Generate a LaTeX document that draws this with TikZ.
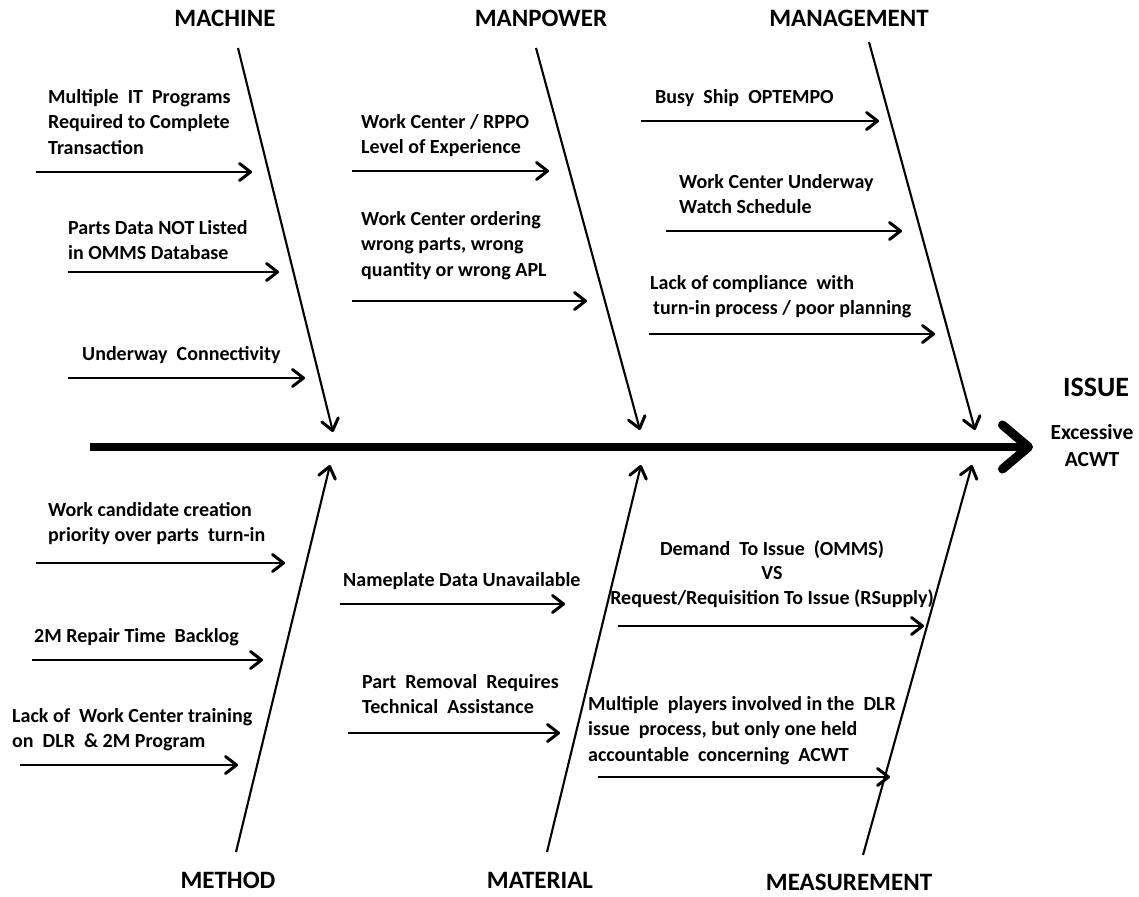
\documentclass[tikz,border=0pt]{standalone}
\usepackage{fontspec}
\setmainfont{Carlito}
\usetikzlibrary{arrows.meta}
\begin{document}
\begin{tikzpicture}[x=1pt,y=-1pt,
  lbl/.style={font=\bfseries\fontsize{20}{25.5}\selectfont, inner sep=0pt, align=left, anchor=north west},
  clbl/.style={font=\bfseries\fontsize{20}{24.5}\selectfont, inner sep=0pt, align=center, anchor=north},
  head/.style={font=\bfseries\fontsize{25}{30}\selectfont, inner sep=0pt},
  cause/.style={line width=2.4pt, -{Straight Barb[length=11pt,width=17pt,line width=3pt,round]}},
  bone/.style={line width=2.1pt, -{Straight Barb[length=11pt,width=17pt,line width=3pt,round]}},
  spine/.style={line width=8pt, -{Straight Barb[length=26pt,width=44pt,line width=9pt,round]}}
]
\useasboundingbox (0,0) rectangle (1139,896);

% spine
\coordinate (sp0) at (90,447);
\coordinate (sp1) at (1033,447);
\draw[spine] (sp0) -- (sp1);

% issue
\node[head, font=\bfseries\fontsize{28}{32}\selectfont] (issue) at (1096,387) {ISSUE};
\node[clbl, font=\bfseries\fontsize{21.5}{27}\selectfont] (effect) at (1092,424) {Excessive\\ACWT};

% category labels
\node[head] (machine) at (225,18) {MACHINE};
\node[head] (manpower) at (541,18) {MANPOWER};
\node[head] (management) at (849,18) {MANAGEMENT};
\node[head] (method) at (228,880) {METHOD};
\node[head] (material) at (540,880) {MATERIAL};
\node[head] (measurement) at (849,882) {MEASUREMENT};

% bones
\coordinate (b1a) at (238,48);  \coordinate (b1b) at (333,432);
\coordinate (b2a) at (536,48);  \coordinate (b2b) at (640,430);
\coordinate (b3a) at (869,42);  \coordinate (b3b) at (975,430);
\coordinate (b4a) at (236,852); \coordinate (b4b) at (330,465);
\coordinate (b5a) at (547,852); \coordinate (b5b) at (641,465);
\coordinate (b6a) at (863,855); \coordinate (b6b) at (972,465);
\draw[bone] (b1a) -- (b1b);
\draw[bone] (b2a) -- (b2b);
\draw[bone] (b3a) -- (b3b);
\draw[bone] (b4a) -- (b4b);
\draw[bone] (b5a) -- (b5b);
\draw[bone] (b6a) -- (b6b);

% machine causes
\node[lbl] (m1) at (48,89) {Multiple\ \ IT\ \ Programs\\Required to Complete\\Transaction};
\node[lbl] (m2) at (68,220) {Parts Data NOT Listed\\in OMMS Database};
\node[lbl] (m3) at (82,346) {Underway\ \ Connectivity};
\coordinate (m1a) at (36,172);  \coordinate (m1b) at (252,172);
\coordinate (m2a) at (68,272);  \coordinate (m2b) at (279,272);
\coordinate (m3a) at (68,378);  \coordinate (m3b) at (305,378);
\draw[cause] (m1a) -- (m1b);
\draw[cause] (m2a) -- (m2b);
\draw[cause] (m3a) -- (m3b);

% manpower causes
\node[lbl] (p1) at (361,114) {Work Center / RPPO\\Level of Experience};
\node[lbl] (p2) at (361,211) {Work Center ordering\\wrong parts, wrong\\quantity or wrong APL};
\coordinate (p1a) at (352,171); \coordinate (p1b) at (549,171);
\coordinate (p2a) at (352,301); \coordinate (p2b) at (587,301);
\draw[cause] (p1a) -- (p1b);
\draw[cause] (p2a) -- (p2b);

% management causes
\node[lbl] (g1) at (655,89) {Busy\ \ Ship\ \ OPTEMPO};
\node[lbl] (g2) at (679,174) {Work Center Underway\\Watch Schedule};
\node[lbl] (g3) at (650,275) {Lack of compliance\ \ with\\\hspace*{3pt}turn-in process / poor planning};
\coordinate (g1a) at (641,121); \coordinate (g1b) at (879,121);
\coordinate (g2a) at (666,231); \coordinate (g2b) at (902,231);
\coordinate (g3a) at (649,334); \coordinate (g3b) at (935,334);
\draw[cause] (g1a) -- (g1b);
\draw[cause] (g2a) -- (g2b);
\draw[cause] (g3a) -- (g3b);

% method causes
\node[lbl] (t1) at (48,502) {Work candidate creation\\priority over parts\ \ turn-in};
\node[lbl] (t2) at (34,628) {2M Repair Time\ \ Backlog};
\node[lbl] (t3) at (12,708) {Lack of\ \ Work Center training\\on\ \ DLR\ \ \& 2M Program};
\coordinate (t1a) at (36,563);  \coordinate (t1b) at (285,563);
\coordinate (t2a) at (32,660);  \coordinate (t2b) at (263,660);
\coordinate (t3a) at (20,765);  \coordinate (t3b) at (238,765);
\draw[cause] (t1a) -- (t1b);
\draw[cause] (t2a) -- (t2b);
\draw[cause] (t3a) -- (t3b);

% material causes
\node[lbl] (a1) at (343,572) {Nameplate Data Unavailable};
\node[lbl] (a2) at (362,674) {Part\ \ Removal\ \ Requires\\Technical\ \ Assistance};
\coordinate (a1a) at (340,604); \coordinate (a1b) at (565,604);
\coordinate (a2a) at (348,733); \coordinate (a2b) at (560,733);
\draw[cause] (a1a) -- (a1b);
\draw[cause] (a2a) -- (a2b);

% measurement causes
\node[clbl] (s1) at (772,540) {Demand\ \ To Issue\ \ (OMMS)\\VS\\Request/Requisition To Issue\ (RSupply)};
\node[lbl] (s2) at (588,696) {Multiple\ \ players involved in the\ \ DLR\\issue\ \ process, but only one held\\accountable\ \ concerning\ \ ACWT};
\coordinate (s1a) at (618,626); \coordinate (s1b) at (924,626);
\coordinate (s2a) at (598,777); \coordinate (s2b) at (890,777);
\draw[cause] (s1a) -- (s1b);
\draw[cause] (s2a) -- (s2b);
\end{tikzpicture}
\end{document}
